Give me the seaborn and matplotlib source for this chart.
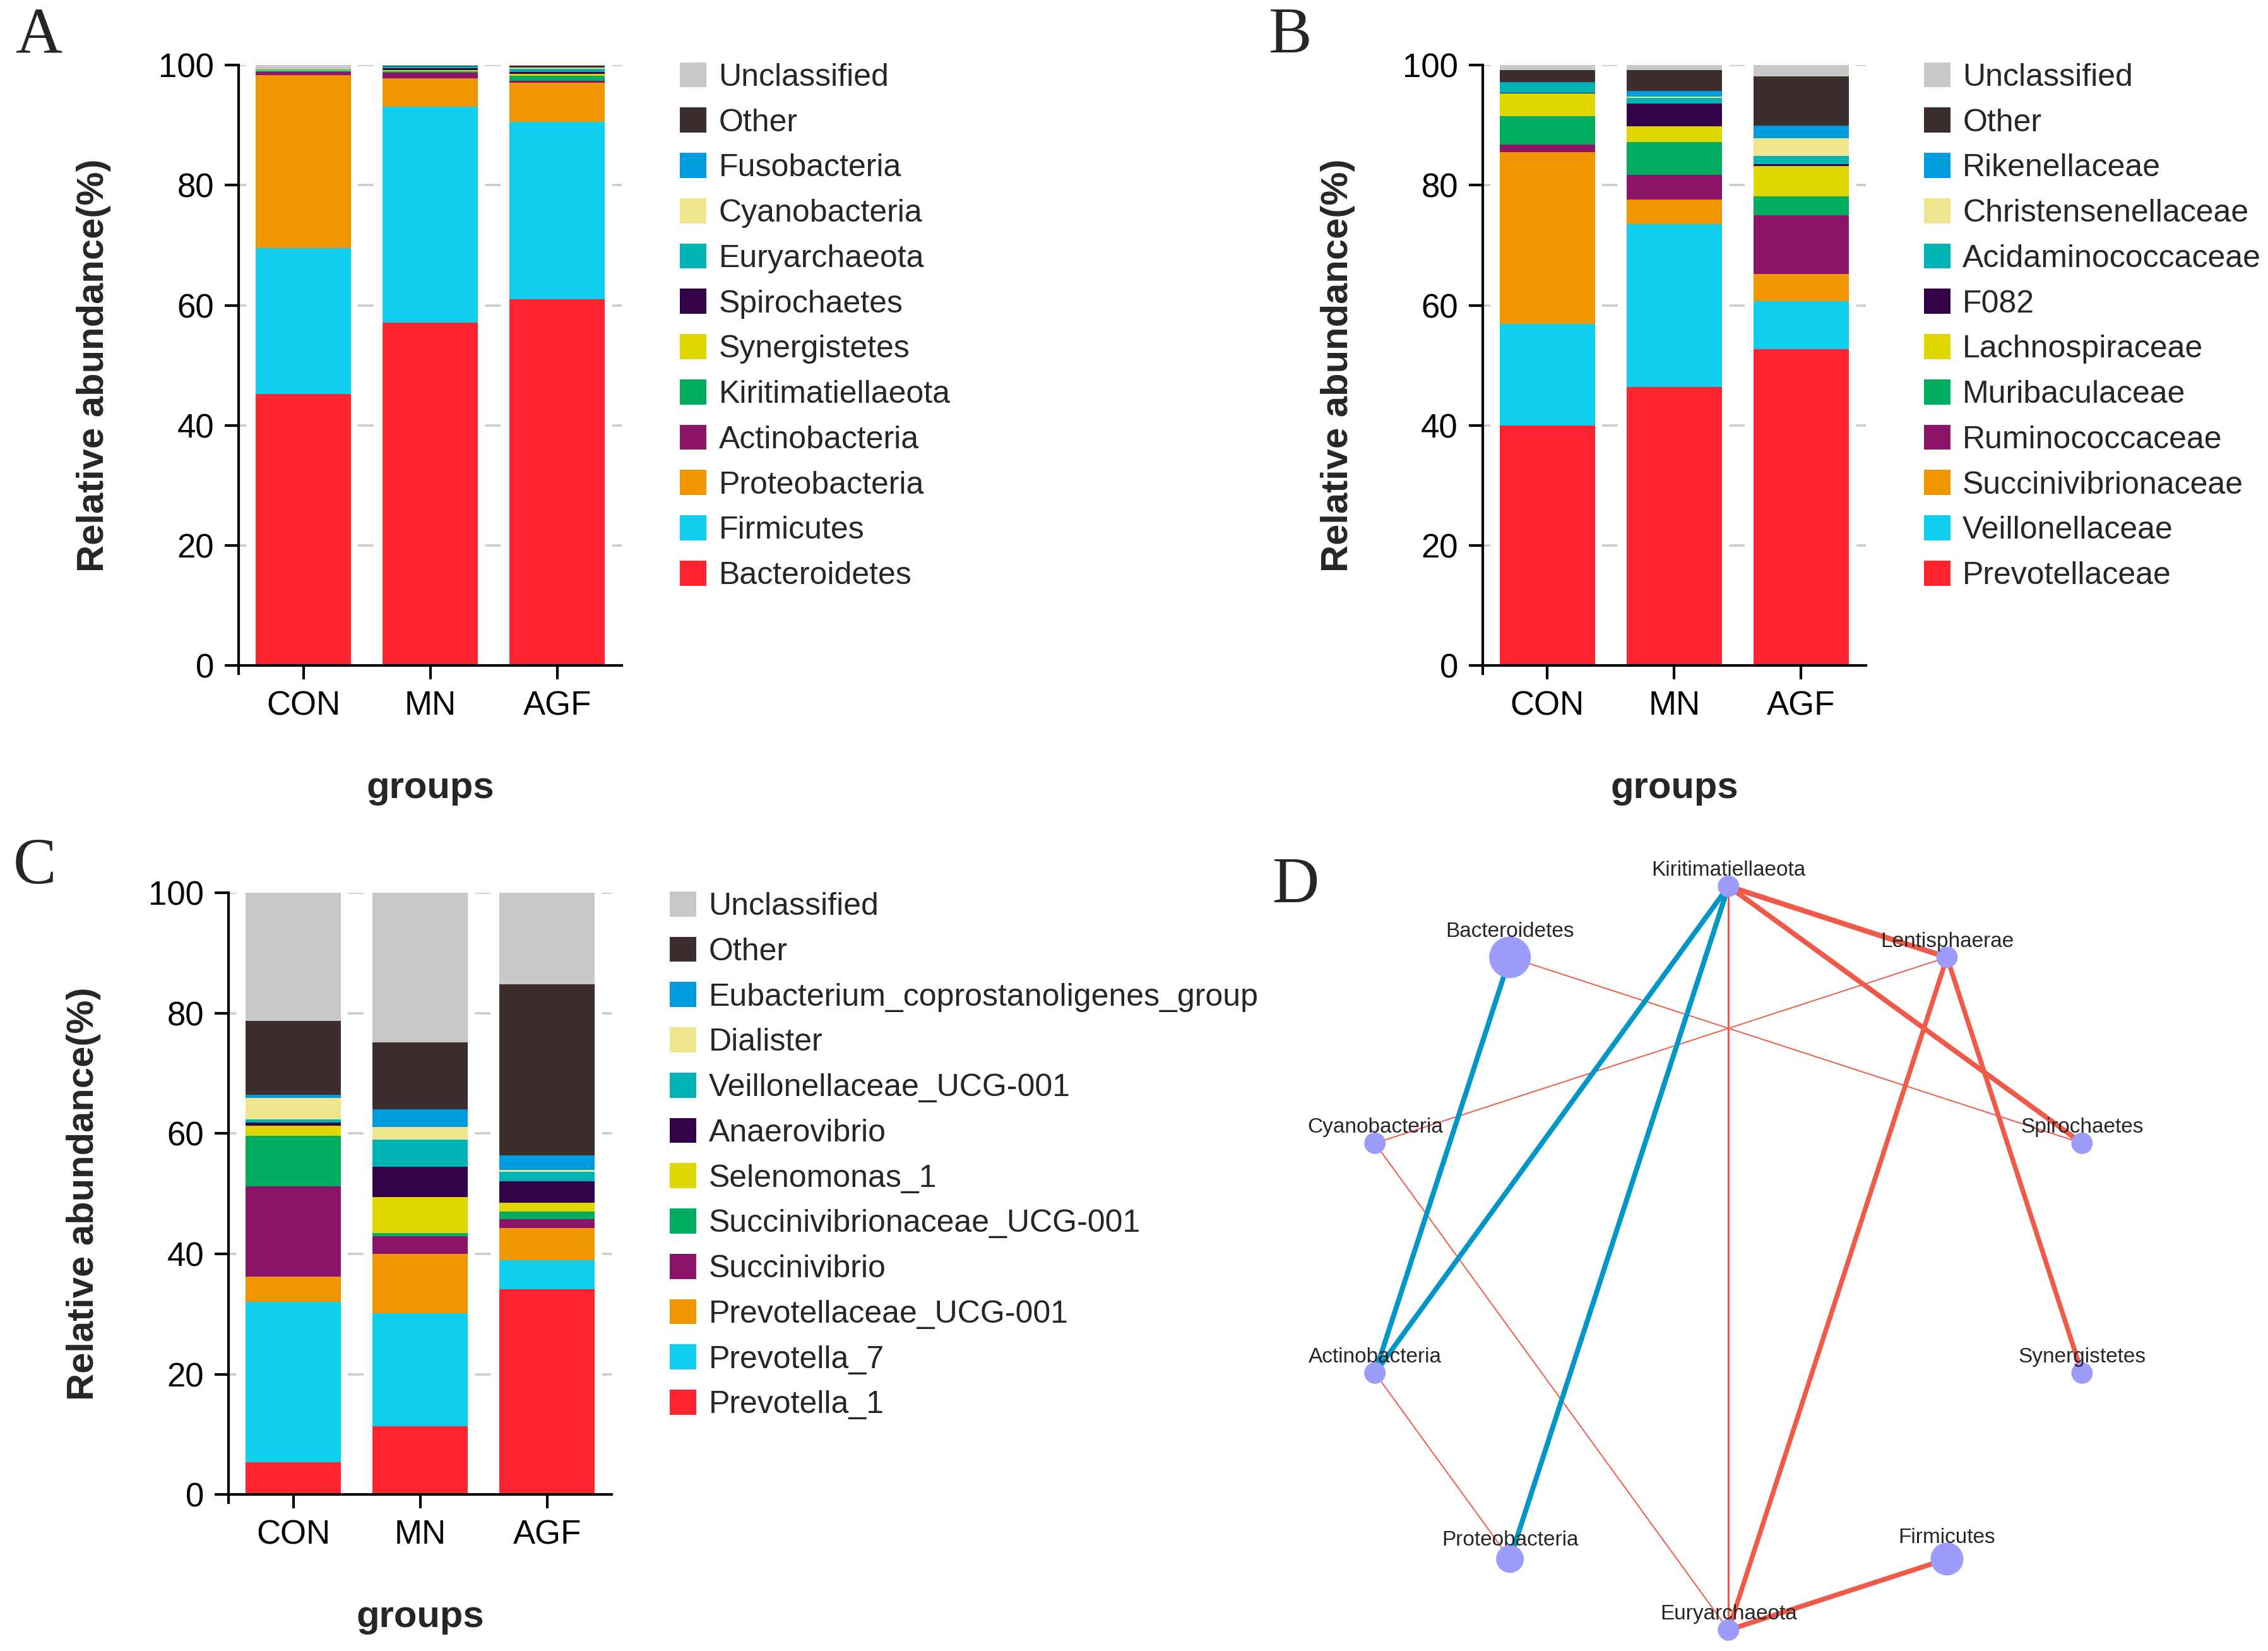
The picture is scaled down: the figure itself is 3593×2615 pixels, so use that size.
import numpy as np
import pandas as pd
import matplotlib
matplotlib.use("Agg")
import matplotlib.pyplot as plt
from matplotlib.patches import Patch
import seaborn as sns

sns.set_style("white")
plt.rcParams['font.family'] = ['Liberation Sans', 'DejaVu Sans']

# ---------------- data ----------------
groups = ["CON", "MN", "AGF"]

colors = ["#FE2430", "#10CFEE", "#F19500", "#8C1469", "#00AD61", "#E1D700",
          "#330249", "#00B3B4", "#EEE68F", "#009BDF", "#3D2E2D", "#C8C8C8"]

# Panel A (phylum)
taxa_A = ["Bacteroidetes", "Firmicutes", "Proteobacteria", "Actinobacteria",
          "Kiritimatiellaeota", "Synergistetes", "Spirochaetes", "Euryarchaeota",
          "Cyanobacteria", "Fusobacteria", "Other", "Unclassified"]
A_CON = [45.2, 24.3, 28.8, 0.6, 0.2, 0.1, 0.02, 0.02, 0.02, 0.01, 0.03, 0.7]
A_MN = [57.1, 36.0, 4.7, 0.95, 0.2, 0.2, 0.3, 0.25, 0.05, 0.05, 0.1, 0.1]
A_AGF = [61.0, 29.6, 6.5, 0.3, 0.8, 0.3, 0.4, 0.45, 0.2, 0.05, 0.35, 0.05]

# Panel B (family)
taxa_B = ["Prevotellaceae", "Veillonellaceae", "Succinivibrionaceae", "Ruminococcaceae",
          "Muribaculaceae", "Lachnospiraceae", "F082", "Acidaminococcaceae",
          "Christensenellaceae", "Rikenellaceae", "Other", "Unclassified"]
B_CON = [40.0, 16.9, 28.6, 1.3, 4.7, 3.8, 0.05, 1.7, 0.05, 0.05, 2.0, 0.85]
B_MN = [46.4, 27.1, 4.1, 4.1, 5.5, 2.6, 3.85, 0.9, 0.25, 0.9, 3.5, 0.8]
B_AGF = [52.7, 8.0, 4.5, 9.8, 3.1, 5.1, 0.35, 1.3, 3.0, 2.1, 8.2, 1.85]

# Panel C (genus)
taxa_C = ["Prevotella_1", "Prevotella_7", "Prevotellaceae_UCG-001", "Succinivibrio",
          "Succinivibrionaceae_UCG-001", "Selenomonas_1", "Anaerovibrio",
          "Veillonellaceae_UCG-001", "Dialister", "Eubacterium_coprostanoligenes_group",
          "Other", "Unclassified"]
C_CON = [5.4, 26.6, 4.2, 15.0, 8.4, 1.7, 0.55, 0.55, 3.5, 0.55, 12.3, 21.25]
C_MN = [11.4, 18.8, 9.8, 2.9, 0.6, 6.0, 5.0, 4.5, 2.1, 2.9, 11.1, 24.9]
C_AGF = [34.1, 4.9, 5.3, 1.5, 1.25, 1.5, 3.5, 1.6, 0.35, 2.4, 28.4, 15.2]

# Panel D (correlation network)
net_nodes = ["Kiritimatiellaeota", "Lentisphaerae", "Spirochaetes", "Synergistetes",
             "Firmicutes", "Euryarchaeota", "Proteobacteria", "Actinobacteria",
             "Cyanobacteria", "Bacteroidetes"]
net_node_size = [34, 34, 34, 34, 52, 34, 44, 34, 34, 66]
net_edges_src = ["Kiritimatiellaeota", "Kiritimatiellaeota", "Kiritimatiellaeota",
                 "Lentisphaerae", "Lentisphaerae", "Euryarchaeota",
                 "Kiritimatiellaeota", "Bacteroidetes", "Cyanobacteria", "Cyanobacteria",
                 "Actinobacteria",
                 "Bacteroidetes", "Kiritimatiellaeota", "Kiritimatiellaeota"]
net_edges_dst = ["Lentisphaerae", "Spirochaetes", "Euryarchaeota",
                 "Synergistetes", "Euryarchaeota", "Firmicutes",
                 "Euryarchaeota", "Spirochaetes", "Lentisphaerae", "Euryarchaeota",
                 "Proteobacteria",
                 "Actinobacteria", "Actinobacteria", "Proteobacteria"]
net_edges_r = [0.95, 0.9, 0.4, 0.85, 0.85, 0.88, 0.4, 0.3, 0.3, 0.3, 0.3,
               -0.9, -0.9, -0.9]

# ---------------- figure ----------------
W, H = 1568.0, 1141.0
fig = plt.figure(figsize=(17.965, 13.075), dpi=200)


def stacked(ax_rect, taxa, vals, legend_xy, letter_xy, letter):
    ax = fig.add_axes(ax_rect)
    data = np.array(vals)  # shape groups x taxa
    cum = np.cumsum(data, axis=1)
    for k in range(len(taxa) - 1, -1, -1):
        df = pd.DataFrame({"group": groups, "value": cum[:, k]})
        sns.barplot(data=df, x="group", y="value", color=colors[k], width=0.75,
                    saturation=1, ax=ax, linewidth=0, zorder=2)
    ax.set_xlim(-0.51, 2.51)
    ax.set_ylim(0, 100)
    ax.set_yticks([0, 20, 40, 60, 80, 100])
    ax.yaxis.grid(True, linestyle=(3.5, (6.9, 48.9)), color="#cccccc", linewidth=1.3)
    ax.xaxis.grid(False)
    ax.set_axisbelow(True)
    for s in ["top", "right"]:
        ax.spines[s].set_visible(False)
    for s in ["left", "bottom"]:
        ax.spines[s].set_linewidth(1.5)
        ax.spines[s].set_color("black")
    ax.spines["left"].set_bounds(-1.3, 100)
    ax.tick_params(axis="both", direction="out", length=8, width=1.5,
                   labelsize=19, colors="black", pad=6, bottom=True, left=True)
    ax.set_xlabel("groups", fontsize=21.5, fontweight="bold", labelpad=28)
    ax.set_ylabel("Relative abundance(%)", fontsize=21.5, fontweight="bold", labelpad=27)
    handles = [Patch(facecolor=colors[k], edgecolor="none", label=taxa[k])
               for k in range(len(taxa) - 1, -1, -1)]
    fig.legend(handles=handles, loc="upper left",
               bbox_to_anchor=(legend_xy[0] / W, 1 - legend_xy[1] / H),
               bbox_transform=fig.transFigure, frameon=False, fontsize=18,
               handlelength=0.85, handleheight=0.85, handletextpad=0.38,
               labelspacing=0.49, borderpad=0, borderaxespad=0)
    fig.text(letter_xy[0] / W, 1 - letter_xy[1] / H, letter, fontsize=37,
             family=["Liberation Serif", "DejaVu Serif"], va="top", ha="left")
    return ax


stacked([165 / W, 1 - 460 / H, 265 / W, 415 / H], taxa_A,
        [A_CON, A_MN, A_AGF], (470, 43), (11, 5), "A")
stacked([1025 / W, 1 - 460 / H, 265 / W, 415 / H], taxa_B,
        [B_CON, B_MN, B_AGF], (1330, 43), (877, 5), "B")
stacked([158 / W, 1 - 1033 / H, 265 / W, 416 / H], taxa_C,
        [C_CON, C_MN, C_AGF], (463, 616), (9, 579), "C")

# ---------------- panel D ----------------
cx, cy, rad = 1195.0, 869.5, 257.0
axd = fig.add_axes([900 / W, 0, 590 / W, 551 / H])
axd.set_xlim((900 - cx) / rad, (1490 - cx) / rad)
axd.set_ylim((cy - 1141) / rad, (cy - 590) / rad)
axd.axis("off")

n = len(net_nodes)
ang = np.deg2rad(90 - 360.0 / n * np.arange(n))
pos = {name: (np.cos(a), np.sin(a)) for name, a in zip(net_nodes, ang)}

for s, d, r in zip(net_edges_src, net_edges_dst, net_edges_r):
    x0, y0 = pos[s]
    x1, y1 = pos[d]
    col = "#F05A48" if r > 0 else "#0097C6"
    lw = 0.7 if abs(r) < 0.35 else (1.1 if abs(r) < 0.5 else 3.2 * abs(r))
    axd.plot([x0, x1], [y0, y1], color=col, lw=lw, zorder=1, solid_capstyle="butt",
             clip_on=False)

node_df = pd.DataFrame({"x": [pos[k][0] for k in net_nodes],
                        "y": [pos[k][1] for k in net_nodes],
                        "size": [(sz * 72 / 200) ** 2 for sz in net_node_size]})
axd.scatter(node_df["x"], node_df["y"], s=node_df["size"], color="#9C9CFB",
            edgecolors="none", zorder=3, clip_on=False)
for name, sz in zip(net_nodes, net_node_size):
    off = (sz / 2 + 8) * 72 / 200
    axd.annotate(name, pos[name], xytext=(0, off), textcoords="offset points",
                 ha="center", va="center", fontsize=12, zorder=4,
                 annotation_clip=False)

fig.text(880 / W, 1 - 592 / H, "D", fontsize=37,
         family=["Liberation Serif", "DejaVu Serif"], va="top", ha="left")

fig.savefig("out.png", dpi=200, facecolor="white")
